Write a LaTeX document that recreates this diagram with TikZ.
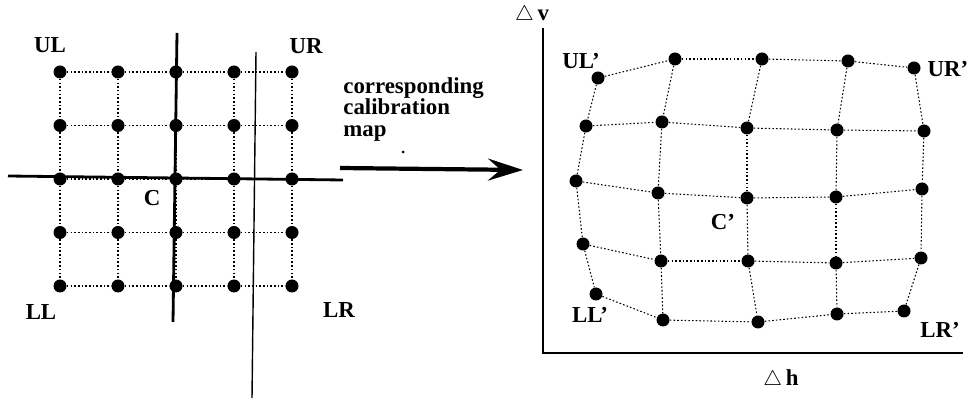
\documentclass[tikz,border=0pt]{standalone}
\usepackage{fontspec}
\setmainfont{Liberation Serif}
\usetikzlibrary{arrows.meta}

\begin{document}
\begin{tikzpicture}[x=0.2mm, y=0.2mm,
  dot/.style={circle, fill=black, inner sep=0pt, minimum size=2.6mm},
  mesh/.style={dash pattern=on 0.9pt off 1.2pt, line width=0.6pt},
  lab/.style={font=\fontsize{13}{13}\selectfont\bfseries, inner sep=0pt},
  arr/.style={-{Stealth[length=7mm, width=4.4mm, inset=2.5mm]}, line width=2.4pt}
]
  \useasboundingbox (0,0) rectangle (970,399);

  % regular target grid
  \foreach \j in {1,...,5}
    \foreach \i in {1,...,5}{
      \pgfmathtruncatemacro{\k}{5*(\j-1)+\i}
      \node[dot] (a\k) at ({60+58*(\i-1)}, {327-53.5*(\j-1)}) {};
    }
  \foreach \k in {1,...,25}{
    \pgfmathtruncatemacro{\kc}{mod(\k,5)}
    \pgfmathtruncatemacro{\kn}{\k+1}
    \pgfmathtruncatemacro{\kd}{\k+5}
    \ifnum\kc>0 \draw[mesh] (a\k) -- (a\kn); \fi
    \ifnum\k<21 \draw[mesh] (a\k) -- (a\kd); \fi
  }

  % cross hairs through the centre
  \coordinate (vt) at (177,366);
  \coordinate (vb) at (173,77);
  \coordinate (hl) at (8,223);
  \coordinate (hr) at (343,219);
  \coordinate (tt) at (256,347);
  \coordinate (tb) at (252,1);
  \draw[line width=1.6pt] (vt) -- (vb);
  \draw[line width=1.6pt] (hl) -- (hr);
  \draw[line width=0.8pt] (tt) -- (tb);

  \node[lab] (ul) at (50,354) {UL};
  \node[lab] (ur) at (306,353) {UR};
  \node[lab] (c)  at (152,201) {C};
  \node[lab] (ll) at (41,87)   {LL};
  \node[lab] (lr) at (339,89)  {LR};

  % mapping arrow
  \node[anchor=north west, align=left, inner sep=0pt,
        font=\fontsize{13}{12.2}\selectfont\bfseries] (cmap) at (343,322)
        {corresponding\\calibration\\map};
  \fill (403,247) circle (0.3mm);
  \coordinate (as) at (340,231);
  \coordinate (ae) at (523,229);
  \draw[arr] (as) -- (ae);

  % measured offsets
  \coordinate (vtop) at (543,371);
  \coordinate (hend) at (963,46);
  \draw[line width=1.1pt] (vtop) |- (hend);
  \node[lab] (dv) at (532,384) {$\triangle$\,v};
  \node[lab] (dh) at (781,19)  {$\triangle$\,h};

  \foreach \x/\y [count=\k] in {598/321, 675/340, 762/340, 848/338, 914/331,
                                 586/273, 662/277, 747/271, 837/269, 924/268,
                                 576/218, 658/206, 747/201, 836/202, 922/210,
                                 583/155, 661/138, 748/138, 836/136, 921/141,
                                 596/105, 663/79,  758/77,  837/85,  904/88}
    \node[dot] (b\k) at (\x,\y) {};
  \foreach \k in {1,...,25}{
    \pgfmathtruncatemacro{\kc}{mod(\k,5)}
    \pgfmathtruncatemacro{\kn}{\k+1}
    \pgfmathtruncatemacro{\kd}{\k+5}
    \ifnum\kc>0 \draw[mesh] (b\k) -- (b\kn); \fi
    \ifnum\k<21 \draw[mesh] (b\k) -- (b\kd); \fi
  }

  \node[lab] (ulp) at (581,338) {UL'};
  \node[lab] (urp) at (948,330) {UR'};
  \node[lab] (cp)  at (723,177) {C'};
  \node[lab] (llp) at (590,84)  {LL'};
  \node[lab] (lrp) at (940,69)  {LR'};
\end{tikzpicture}
\end{document}
